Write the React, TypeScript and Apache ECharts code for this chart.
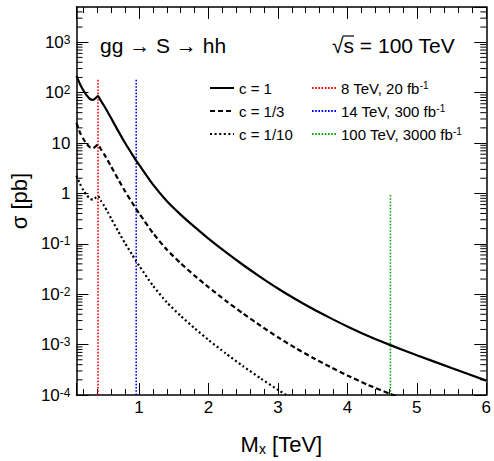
import React, { useEffect, useRef } from 'react';
import * as echarts from 'echarts';

const FONT = "'Liberation Sans', Arial, Helvetica, sans-serif";

// Resonance mass M_X in TeV
const massTeV = [0.1, 0.15, 0.2, 0.25, 0.3, 0.34, 0.38, 0.41, 0.45, 0.5, 0.55, 0.6, 0.7, 0.8, 0.9, 0.96, 1.0, 1.2, 1.4, 1.6, 1.8, 2.0, 2.25, 2.5, 2.75, 3.0, 3.25, 3.5, 3.75, 4.0, 4.3, 4.62, 5.0, 5.5, 6.0];

// sigma [pb] for c = 1
const sigmaC1 = [215, 148, 110, 87, 74, 72, 79, 85, 69.2, 54.3, 41.2, 30.9, 17.4, 10, 6.03, 4.47, 3.72, 1.51, 0.708, 0.38, 0.216, 0.127, 0.0684, 0.038, 0.0219, 0.013, 0.00804, 0.00513, 0.00339, 0.00229, 0.00148, 0.000977, 0.000617, 0.000343, 0.000193];
// sigma [pb] for c = 1/3
const sigmaC3 = [25.1, 16.2, 12.0, 9.5, 8.1, 7.9, 8.7, 9.3, 7.6, 5.96, 4.52, 3.39, 1.91, 1.10, 0.66, 0.49, 0.407, 0.164, 0.0767, 0.0412, 0.0234, 0.0138, 0.00741, 0.00412, 0.00237, 0.0014, 0.000861, 0.00055, 0.000363, 0.000245, 0.000158, 0.000105, 0.000066, 0.0000367, 0.0000207];
// sigma [pb] for c = 1/10
const sigmaC10 = [2.24, 1.55, 1.15, 0.91, 0.776, 0.75, 0.83, 0.89, 0.72, 0.56, 0.427, 0.316, 0.178, 0.102, 0.0617, 0.0447, 0.0372, 0.0148, 0.00692, 0.00372, 0.00211, 0.00124, 0.000668, 0.000372, 0.000214, 0.000127, 0.0000785, 0.00005, 0.0000331, 0.0000224, 0.0000145, 0.0000095, 0.000006, 0.0000033, 0.0000019];

const curveNames = ['c = 1', 'c = 1/3', 'c = 1/10'];

// Reach lines (mass in TeV, upper end in pb)
const reachNames = ['8 TeV, 20 fb-1', '14 TeV, 300 fb-1', '100 TeV, 3000 fb-1'];
const reachMass = [0.41, 0.96, 4.62];
const reachTop = [190, 190, 1];
const reachColors = ['#ff0000', '#0000ff', '#00aa00'];

// Axes
const xMin = 0.1;
const xMax = 6;
const yMin = 1e-4;
const yMax = 5000;
const yMinorMultipliers = [2, 3, 4, 5, 6, 7, 8, 9];
const yDecadeExponents = [-4, -3, -2, -1, 0, 1, 2, 3];

const titleText = 'gg \u2192 S \u2192 hh';
const energyText = '\u221As = 100 TeV';

function yLabel(v: number): string {
  const e = Math.round(Math.log10(v));
  if (e === 0) return '1';
  if (e === 1) return '10';
  return '10{sup|' + e + '}';
}

export default function App() {
  const ref = useRef<HTMLDivElement>(null);
  useEffect(() => {
    if (!ref.current) return;
    const chart = echarts.init(ref.current, undefined, { renderer: 'svg' });

    const minorTicks: number[][] = [];
    yDecadeExponents.forEach((e) => {
      yMinorMultipliers.forEach((m) => {
        const v = m * Math.pow(10, e);
        if (v < yMax) minorTicks.push([xMin, v]);
      });
    });

    const curveStyles = [
      { type: 'solid', width: 2.2 },
      { type: [5, 3], width: 2.2 },
      { type: [2, 2.6], width: 2.2 },
    ];
    const curveData = [sigmaC1, sigmaC3, sigmaC10];

    const curveSeries = curveNames.map((name, i) => ({
      name,
      type: 'line',
      symbol: 'none',
      smooth: 0.2,
      data: massTeV.map((x, j) => [x, curveData[i][j]]),
      lineStyle: { color: '#000', width: curveStyles[i].width, type: curveStyles[i].type },
      itemStyle: { color: '#000' },
      z: 4,
    }));

    const reachSeries = reachNames.map((name, i) => ({
      name,
      type: 'line',
      symbol: 'none',
      data: [[reachMass[i], yMin], [reachMass[i], reachTop[i]]],
      lineStyle: { color: reachColors[i], width: 1.6, type: [1.6, 1.6] },
      itemStyle: { color: reachColors[i] },
      z: 3,
    }));

    const tickStyle = { color: '#000', width: 1 };
    const axisLineStyle = { color: '#000', width: 1.5 };

    const option: any = {
      animation: false,
      backgroundColor: '#ffffff',
      textStyle: { fontFamily: FONT },
      grid: { left: 75, right: 5, top: 7, bottom: 59, containLabel: false },
      xAxis: [
        {
          type: 'value', min: xMin, max: xMax, position: 'bottom', splitNumber: 6,
          axisLine: { show: true, onZero: false, lineStyle: axisLineStyle },
          axisTick: { show: true, inside: true, length: 12, lineStyle: tickStyle },
          minorTick: { show: true, splitNumber: 5, length: 6, lineStyle: tickStyle },
          splitLine: { show: false },
          minorSplitLine: { show: false },
          axisLabel: { fontSize: 17, color: '#000', margin: 4, showMinLabel: false, fontFamily: FONT },
          name: 'M{sub|x} [TeV]',
          nameLocation: 'middle',
          nameGap: 37,
          nameTextStyle: {
            fontSize: 22, color: '#000', fontFamily: FONT, lineHeight: 24,
            rich: { sub: { fontSize: 14, fontFamily: FONT, color: '#000', verticalAlign: 'bottom', lineHeight: 16 } },
          },
        },
        {
          type: 'value', min: xMin, max: xMax, position: 'top', splitNumber: 6,
          axisLine: { show: true, onZero: false, lineStyle: axisLineStyle },
          axisTick: { show: true, inside: true, length: 12, lineStyle: tickStyle },
          minorTick: { show: true, splitNumber: 5, length: 6, lineStyle: tickStyle },
          splitLine: { show: false },
          axisLabel: { show: false },
        },
      ],
      yAxis: [
        {
          type: 'log', min: yMin, max: yMax, position: 'left', logBase: 10,
          axisLine: { show: true, onZero: false, lineStyle: axisLineStyle },
          axisTick: { show: true, inside: true, length: 12, lineStyle: tickStyle },
          splitLine: { show: false },
          axisLabel: {
            fontSize: 17, color: '#000', margin: 6, showMaxLabel: false, fontFamily: FONT,
            formatter: (v: number) => yLabel(v),
            rich: { sup: { fontSize: 12, fontFamily: FONT, color: '#000', verticalAlign: 'top', lineHeight: 12 } },
          },
          name: '\u03C3 [pb]',
          nameLocation: 'middle',
          nameGap: 40,
          nameRotate: 90,
          nameTextStyle: { fontSize: 22, color: '#000', fontFamily: FONT },
        },
        {
          type: 'log', min: yMin, max: yMax, position: 'right', logBase: 10,
          axisLine: { show: true, onZero: false, lineStyle: axisLineStyle },
          axisTick: { show: true, inside: true, length: 12, lineStyle: tickStyle },
          splitLine: { show: false },
          axisLabel: { show: false },
        },
      ],
      legend: [
        {
          data: curveNames, orient: 'vertical', left: 209, top: 80, padding: 0,
          itemWidth: 24, itemHeight: 14, itemGap: 7,
          itemStyle: { opacity: 0 },
          textStyle: { fontSize: 15, color: '#000', fontFamily: FONT, lineHeight: 16 },
          selectedMode: false,
        },
        {
          data: reachNames, orient: 'vertical', left: 311, top: 80, padding: 0,
          itemWidth: 24, itemHeight: 14, itemGap: 7,
          itemStyle: { opacity: 0 },
          formatter: (name: string) => name.replace('fb-1', 'fb{sup|-1}'),
          textStyle: {
            fontSize: 15, color: '#000', fontFamily: FONT, lineHeight: 16,
            rich: { sup: { fontSize: 10, fontFamily: FONT, color: '#000', verticalAlign: 'top', lineHeight: 10 } },
          },
          selectedMode: false,
        },
      ],
      graphic: [
        { type: 'text', left: 100, top: 35, style: { text: titleText, fontSize: 21, fontFamily: FONT, fill: '#000' } },
        { type: 'text', left: 332, top: 35, style: { text: energyText, fontSize: 21, fontFamily: FONT, fill: '#000' } },
        { type: 'line', shape: { x1: 342.5, y1: 36, x2: 354, y2: 36 }, style: { stroke: '#000', lineWidth: 1.2 } },
      ],
      series: [
        ...reachSeries,
        ...curveSeries,
        {
          name: 'minorTicksY',
          type: 'custom',
          silent: true,
          encode: { x: 0, y: 1 },
          data: minorTicks,
          z: 5,
          renderItem: (params: any, api: any) => {
            const v = api.value(1);
            const l = api.coord([xMin, v]);
            const r = api.coord([xMax, v]);
            return {
              type: 'group',
              children: [
                { type: 'line', shape: { x1: l[0], y1: l[1], x2: l[0] + 6, y2: l[1] }, style: { stroke: '#000', lineWidth: 1 } },
                { type: 'line', shape: { x1: r[0] - 6, y1: r[1], x2: r[0], y2: r[1] }, style: { stroke: '#000', lineWidth: 1 } },
              ],
            };
          },
        },
      ],
    };

    chart.setOption(option);
    return () => chart.dispose();
  }, []);

  return (
    <div
      ref={ref}
      style={{ position: 'fixed', left: 0, top: 0, width: 494, height: 461, background: '#fff' }}
    />
  );
}
